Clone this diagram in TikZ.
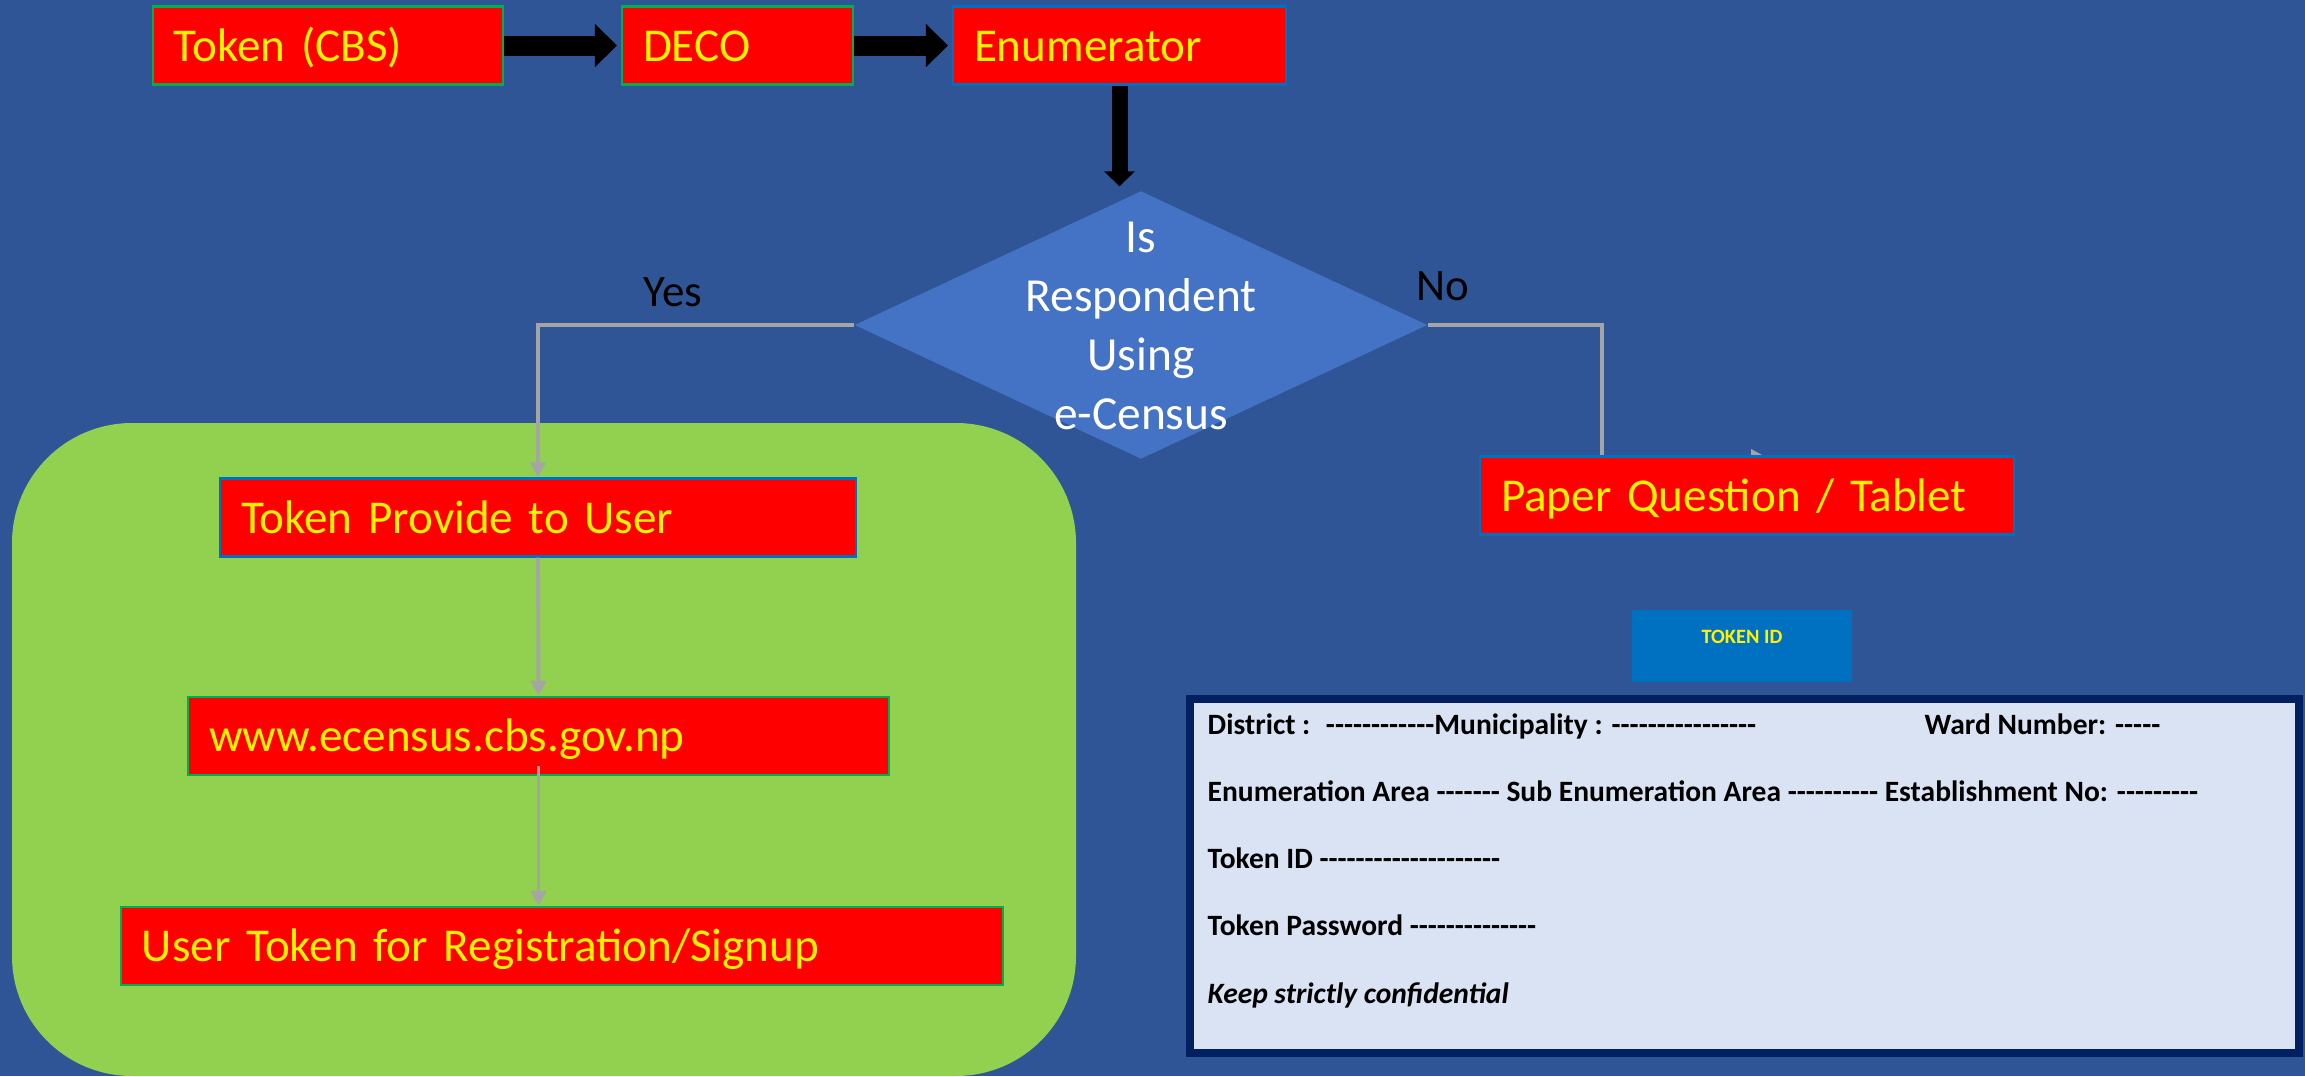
\documentclass[tikz,border=0pt]{standalone}
\usepackage{fontspec}
\setmainfont{Carlito}[Ligatures=TeXOff]
\usetikzlibrary{shapes.geometric,arrows.meta}
\definecolor{slideblue}{HTML}{2F5597}
\definecolor{diamondblue}{HTML}{4472C4}
\definecolor{panelgreen}{HTML}{92D050}
\definecolor{edgegreen}{HTML}{00B050}
\definecolor{edgeblue}{HTML}{0070C0}
\definecolor{flowgray}{HTML}{A5A5A5}
\definecolor{cardfill}{HTML}{DAE3F3}
\definecolor{cardnavy}{HTML}{002060}
\begin{document}
\begin{tikzpicture}[box/.style={draw,fill=red,text=yellow,font=\fontsize{13.4}{16}\selectfont,inner xsep=0.21cm,inner ysep=0pt,text height=0.545cm,text depth=0.235cm,line width=0.6pt,align=left},
    greenbox/.style={box,draw=edgegreen},
    bluebox/.style={box,draw=edgeblue},
    decision/.style={diamond,fill=diamondblue,minimum width=5.73cm,minimum height=2.68cm,inner sep=0pt},
    blockarrow/.style={line width=0.2cm,shorten >=0.04cm,-{Triangle[length=0.22cm,width=0.42cm]}},
    flow/.style={draw=flowgray,line width=1.1pt,-{Triangle[length=0.15cm,width=0.15cm]}},
    formtext/.style={anchor=base west,inner sep=0pt,font=\bfseries\fontsize{8.4}{10}\selectfont}]
    \useasboundingbox (0,0) rectangle (23.05,-10.76);
    \fill[slideblue] (0,0) rectangle (23.05,-10.76);
    \node[fill=panelgreen,rounded corners=1.2cm,minimum width=10.64cm,minimum height=6.53cm] (webpanel) at (5.44,-7.495) {};

    \node[greenbox,text width=3.08cm] (tokencbs) at (3.28,-0.455) {Token (CBS)};
    \node[greenbox,text width=1.89cm] (deco) at (7.375,-0.455) {DECO};
    \node[bluebox,text width=2.91cm] (enum) at (11.195,-0.455) {Enumerator};
    \node[decision] (decide) at (11.41,-3.25) {};
    \node[text=white,align=center,font=\fontsize{13.5}{16.8}\selectfont] (decidetext) at (11.41,-3.26) {Is\\Respondent\\Using\\e-Census};
    \node[font=\fontsize{12.8}{15}\selectfont] (yes) at (6.73,-2.92) {Yes};
    \node[font=\fontsize{12.8}{15}\selectfont] (no) at (14.43,-2.86) {No};

    \draw[blockarrow] (tokencbs.east) -- (deco.west);
    \draw[blockarrow] (deco.east) -- (enum.west);
    \draw[blockarrow,line width=0.16cm,-{Triangle[length=0.15cm,width=0.3cm]}] (enum.south) -- (enum.south |- decide.north);

    \coordinate (paperin) at (17.66,-4.57);
    \draw[flow] (decide.east) -- ++(1.74,0) |- (paperin);
    \node[bluebox,text width=4.92cm] (paper) at (17.47,-4.955) {Paper Question / Tablet};

    \node[bluebox,text width=5.94cm] (provide) at (5.38,-5.175) {Token Provide to User};
    \node[greenbox,text width=6.59cm] (www) at (5.385,-7.36) {www.ecensus.cbs.gov.np};
    \node[greenbox,text width=8.40cm] (usertoken) at (5.62,-9.46) {User Token for Registration/Signup};
    \draw[flow] (decide.west) -| (provide.north);
    \draw[flow] (provide.south) -- (www.north);
    \draw[flow] ([yshift=0.1cm]www.south) -- (www.south |- usertoken.north);

    \node[fill=edgeblue,text=yellow,minimum width=2.2cm,inner ysep=0pt,text height=0.33cm,text depth=0.39cm,font=\bfseries\fontsize{5.8}{7}\selectfont] (tokenid) at (17.42,-6.46) {TOKEN ID};
    \node[draw=cardnavy,fill=cardfill,line width=0.08cm,minimum width=11.09cm,minimum height=3.54cm] (card) at (17.445,-8.76) {};
    \node[formtext] (district) at (12.07,-7.34) {District :~ ------------Municipality : ----------------};
    \node[formtext] (ward) at (19.24,-7.34) {Ward Number: -----};
    \node[formtext] (enumarea) at (12.07,-8.01) {Enumeration Area ------- Sub Enumeration Area ---------- Establishment No: ---------};
    \node[formtext] (tokenline) at (12.07,-8.68) {Token ID --------------------};
    \node[formtext] (passline) at (12.07,-9.35) {Token Password --------------};
    \node[formtext,font=\bfseries\itshape\fontsize{8.4}{10}\selectfont] (keepline) at (12.07,-10.03) {Keep strictly confidential};
\end{tikzpicture}
\end{document}
